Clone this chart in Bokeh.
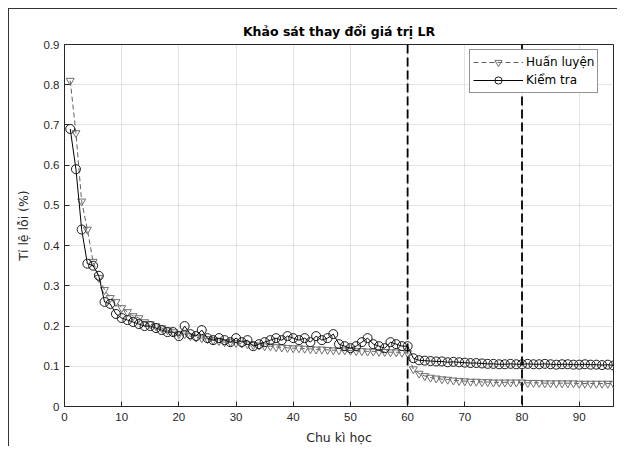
from bokeh.plotting import figure
from bokeh.models import Span, FixedTicker, Legend, LegendItem, Range1d
from bokeh.embed import file_html
from bokeh.resources import INLINE

epochs = list(range(1, 97))

train = [0.81, 0.68, 0.51, 0.44, 0.36, 0.32, 0.29, 0.27, 0.26, 0.245,
         0.235, 0.225, 0.22, 0.21, 0.205, 0.20, 0.195, 0.19, 0.185, 0.18,
         0.18, 0.175, 0.172, 0.17, 0.168, 0.165, 0.163, 0.16, 0.16, 0.158,
         0.157, 0.155, 0.153, 0.152, 0.15, 0.15, 0.148, 0.147, 0.146, 0.145,
         0.145, 0.144, 0.143, 0.142, 0.142, 0.141, 0.14, 0.14, 0.14, 0.139,
         0.138, 0.138, 0.137, 0.137, 0.136, 0.136, 0.135, 0.135, 0.134, 0.133,
         0.093, 0.082, 0.076, 0.072, 0.07, 0.068, 0.067, 0.065, 0.064, 0.063,
         0.062, 0.062, 0.061, 0.061, 0.06, 0.06, 0.06, 0.06, 0.06, 0.06,
         0.059, 0.059, 0.059, 0.058, 0.058, 0.058, 0.058, 0.058, 0.058, 0.057,
         0.057, 0.057, 0.057, 0.057, 0.057, 0.057]

test = [0.69, 0.59, 0.44, 0.355, 0.35, 0.325, 0.26, 0.255, 0.23, 0.22,
        0.215, 0.21, 0.205, 0.2, 0.2, 0.195, 0.19, 0.185, 0.185, 0.175,
        0.2, 0.18, 0.175, 0.19, 0.17, 0.165, 0.17, 0.165, 0.16, 0.17,
        0.16, 0.165, 0.15, 0.155, 0.16, 0.165, 0.17, 0.165, 0.175, 0.17,
        0.165, 0.17, 0.16, 0.175, 0.165, 0.17, 0.18, 0.155, 0.15, 0.145,
        0.15, 0.16, 0.17, 0.155, 0.15, 0.145, 0.16, 0.155, 0.15, 0.15,
        0.12, 0.115, 0.114, 0.113, 0.112, 0.112, 0.11, 0.111, 0.11, 0.109,
        0.108, 0.108, 0.107, 0.106, 0.106, 0.105, 0.105, 0.106, 0.105, 0.105,
        0.106, 0.105, 0.105, 0.106, 0.105, 0.104, 0.105, 0.105, 0.104, 0.104,
        0.105, 0.104, 0.104, 0.103, 0.104, 0.102]

lr_changes = [60, 80]
x_ticks = [0, 10, 20, 30, 40, 50, 60, 70, 80, 90]
y_ticks = [0, 0.1, 0.2, 0.3, 0.4, 0.5, 0.6, 0.7, 0.8, 0.9]

FONT = "Liberation Sans"
WIDE = "DejaVu Sans"

p = figure(width=609, height=438, output_backend="svg", toolbar_location=None,
           x_range=Range1d(0, 96), y_range=Range1d(0, 0.9),
           min_border_left=55, min_border_right=5, min_border_top=35, min_border_bottom=39,
           title="Khảo sát thay đổi giá trị LR",
           styles={"margin-left": "8px", "margin-top": "8px",
                   "border-left": "1px solid #333333", "border-top": "1px solid #333333"})

p.title.align = "center"
p.title.text_font = WIDE
p.title.text_font_size = "12.5px"
p.title.text_font_style = "bold"
p.title.text_color = "#000000"
p.title.offset = 0
p.title.standoff = 12

p.outline_line_color = "#262626"
p.outline_line_width = 1

for ax in (p.xaxis[0], p.yaxis[0]):
    ax.major_tick_in = 5
    ax.major_tick_out = 0
    ax.minor_tick_in = 0
    ax.minor_tick_out = 0
    ax.axis_line_color = "#262626"
    ax.major_tick_line_color = "#262626"
    ax.major_label_text_font = FONT
    ax.major_label_text_font_size = "11.5px"
    ax.major_label_text_color = "#262626"
    ax.axis_label_text_font = WIDE
    ax.axis_label_text_font_size = "12.5px"
    ax.axis_label_text_font_style = "normal"
    ax.axis_label_text_color = "#262626"

p.xaxis.ticker = FixedTicker(ticks=x_ticks)
p.yaxis.ticker = FixedTicker(ticks=y_ticks)
p.xaxis.axis_label = "Chu kì học"
p.yaxis.axis_label = "Tỉ lệ lỗi (%)"
p.xaxis.major_label_standoff = 6
p.yaxis.major_label_standoff = 5
p.xaxis.axis_label_standoff = 6
p.yaxis.axis_label_standoff = 10

p.xgrid.ticker = FixedTicker(ticks=x_ticks)
p.ygrid.ticker = FixedTicker(ticks=y_ticks)
for g in (p.xgrid[0], p.ygrid[0]):
    g.grid_line_color = "#c8c8c8"
    g.grid_line_dash = "1 1"
    g.grid_line_width = 1

for s in lr_changes:
    p.add_layout(Span(location=s, dimension="height", line_color="#000000",
                      line_dash="9 4", line_width=1.8, level="overlay"))

tr_line = p.line(epochs, train, line_color="#606060", line_dash="5 3", line_width=1)
tr_pts = p.scatter(epochs, train, marker="inverted_triangle", size=8,
                   line_color="#707070", fill_alpha=0, line_width=1)
te_line = p.line(epochs, test, line_color="#000000", line_width=1)
te_pts = p.scatter(epochs, test, marker="circle", size=9,
                   line_color="#1a1a1a", fill_alpha=0, line_width=1)

legend = Legend(items=[LegendItem(label="Huấn luyện", renderers=[tr_line, tr_pts]),
                       LegendItem(label="Kiểm tra", renderers=[te_line, te_pts])],
                location=(405, 313))
legend.label_text_font = WIDE
legend.label_text_font_size = "12px"
legend.label_text_color = "#000000"
legend.border_line_color = "#262626"
legend.background_fill_alpha = 1
legend.margin = 0
legend.padding = 3
legend.spacing = 0
legend.label_height = 18
legend.glyph_height = 18
legend.glyph_width = 50
legend.label_standoff = 3
p.add_layout(legend)

open("out.html", "w").write(file_html(p, INLINE))
